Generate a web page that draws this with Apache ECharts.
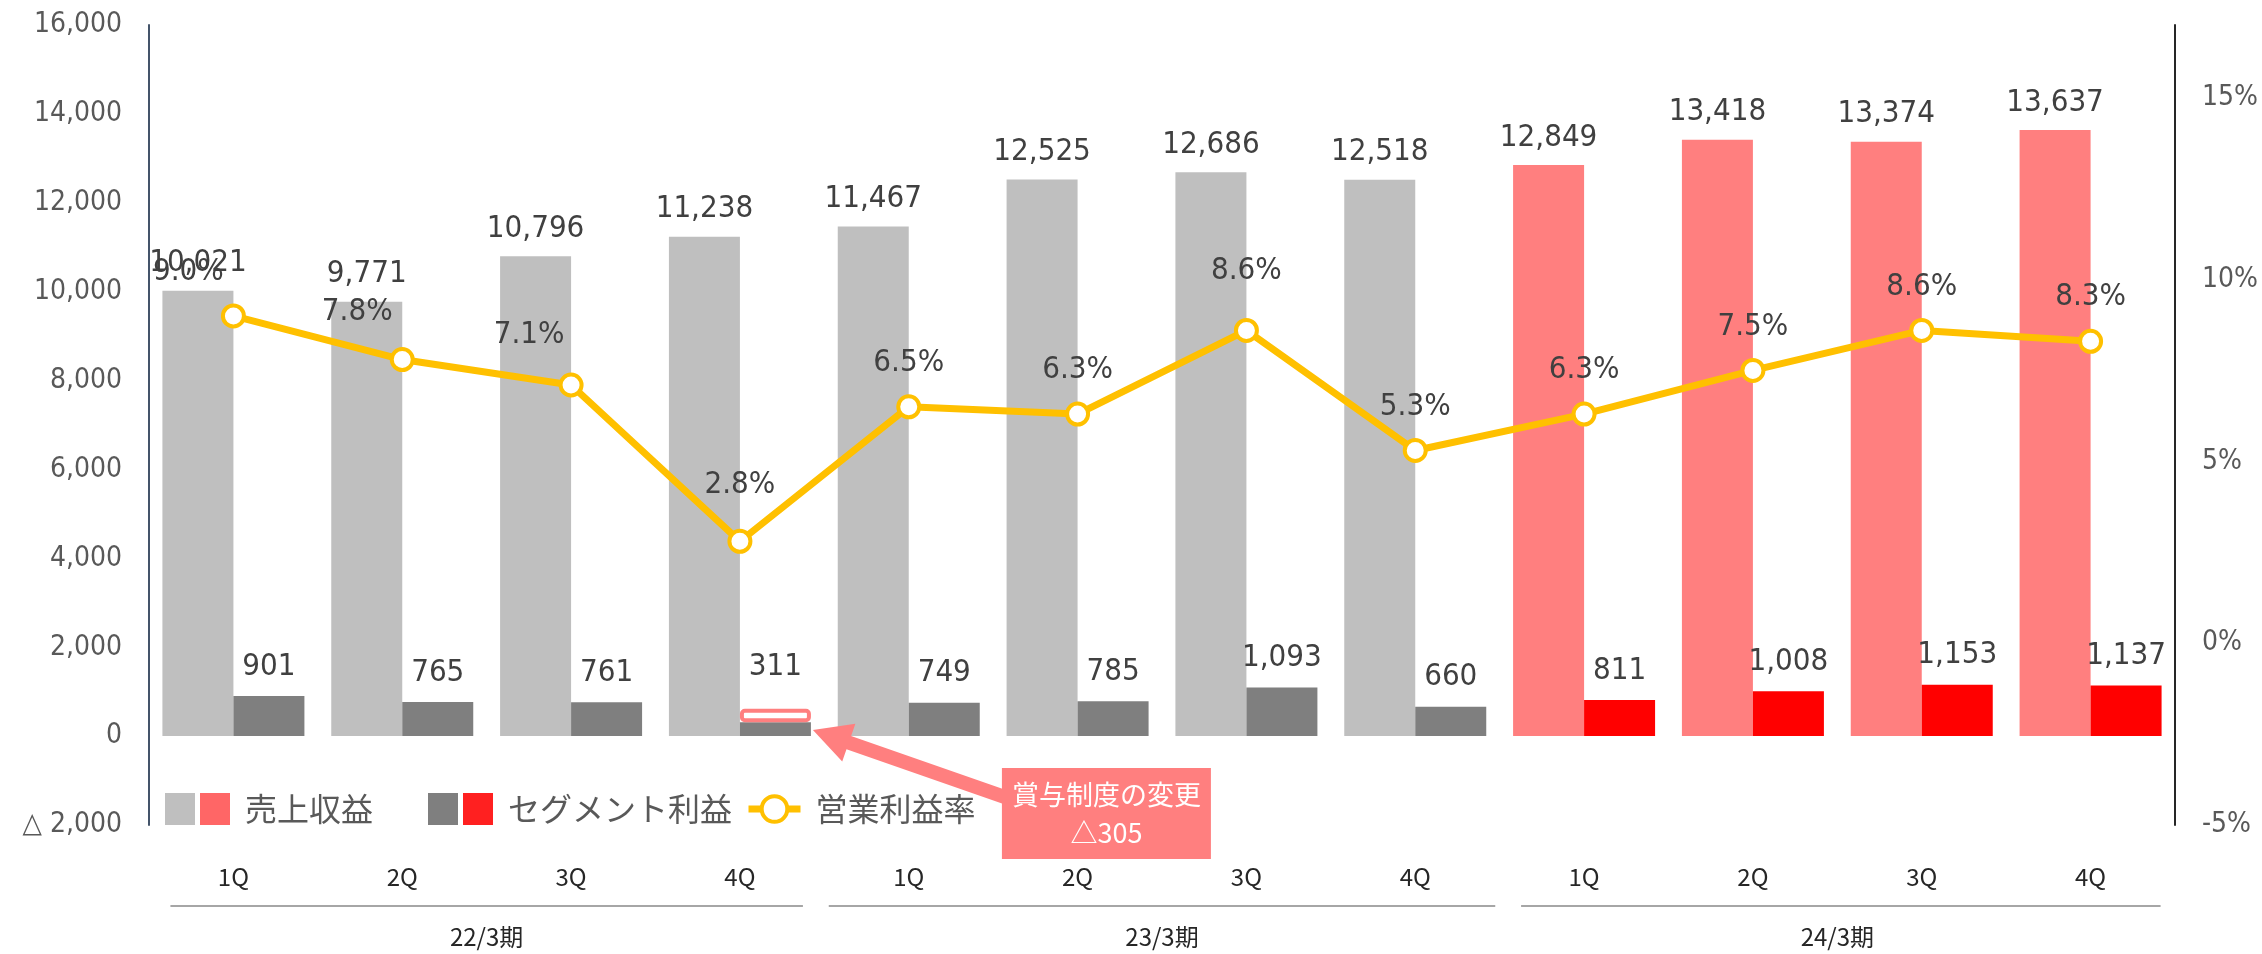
<!DOCTYPE html>
<html>
<head>
<meta charset="utf-8">
<script src="https://cdn.jsdelivr.net/npm/echarts@6/dist/echarts.min.js"></script>
<style>
html, body { margin: 0; padding: 0; background: #fff; }
#main { width: 2262px; height: 954px; }
</style>
</head>
<body>
<div id="main"></div>
<script>
// データ
var quarters = ['1Q', '2Q', '3Q', '4Q', '1Q', '2Q', '3Q', '4Q', '1Q', '2Q', '3Q', '4Q'];
var periods = ['22/3期', '23/3期', '24/3期'];
var revenue = [10021, 9771, 10796, 11238, 11467, 12525, 12686, 12518, 12849, 13418, 13374, 13637];
var segProfit = [901, 765, 761, 311, 749, 785, 1093, 660, 811, 1008, 1153, 1137];
var bonusChange = [null, null, null, 305, null, null, null, null, null, null, null, null]; // 賞与制度の変更
var opMargin = [9.0, 7.8, 7.1, 2.8, 6.5, 6.3, 8.6, 5.3, 6.3, 7.5, 8.6, 8.3];
var leftTicks = [-2000, 16000, 2000];   // min, max, interval
var rightTicks = [-5, 17, 5];

var NUM_FONT = "'DejaVu Sans Condensed', 'Noto Sans', sans-serif";
var JP_FONT = "'Noto Sans CJK JP', sans-serif";
var BAR_W = 71;
var currentFrom = 8; // 24/3期 は赤系

// 利益率ラベルの個別位置調整（元資料の手動配置に合わせる）
var rateLabelNudge = { 0: [-45, 0], 1: [-45, -4], 2: [-42, -6], 3: [0, -12], 6: [0, -16] };

function fmt(v) {
  return Number(v).toLocaleString('en-US');
}

var chart = echarts.init(document.getElementById('main'));

var revData = revenue.map(function (v, i) {
  return i >= currentFrom ? { value: v, itemStyle: { color: '#FF7F7F' } } : v;
});
var segData = segProfit.map(function (v, i) {
  var d = { value: v };
  if (i >= currentFrom) d.itemStyle = { color: '#FF0000' };
  if (bonusChange[i] != null) d.label = { offset: [0, -26] };
  return d;
});
var rateData = opMargin.map(function (v, i) {
  return rateLabelNudge[i] ? { value: v, label: { offset: rateLabelNudge[i] } } : v;
});

var option = {
  backgroundColor: '#ffffff',
  animation: false,
  grid: {
    left: 149, right: 87, top: 25, bottom: 129,
    containLabel: false, outerBoundsMode: 'none'
  },
  legend: [{
    data: ['売上収益', 'セグメント利益'],
    left: 165, top: 793, padding: 0,
    icon: 'rect', itemWidth: 30, itemHeight: 32, itemGap: 55,
    formatter: function (name) {
      return (name === '売上収益' ? '{b0|}' : '{b1|}') + '{t|' + name + '}';
    },
    textStyle: {
      rich: {
        b0: { width: 30, height: 32, backgroundColor: '#FF6666' },
        b1: { width: 30, height: 32, backgroundColor: '#FF2020' },
        t: { fontFamily: JP_FONT, fontSize: 32, color: '#595959', padding: [0, 0, 0, 15] }
      }
    }
  }, {
    data: ['営業利益率'],
    left: 745, top: 793, padding: 0,
    itemWidth: 52, itemHeight: 32,
    itemStyle: { color: '#FFFFFF', borderColor: '#FFC000', borderWidth: 4 },
    lineStyle: { color: '#FFC000', width: 7 },
    textStyle: { fontFamily: JP_FONT, fontSize: 32, color: '#595959', padding: [0, 0, 0, 10] }
  }],
  xAxis: [{
    type: 'category',
    data: quarters,
    axisLine: { show: false, onZero: false },
    axisTick: { show: false },
    axisLabel: { margin: 40, fontFamily: JP_FONT, fontSize: 24, color: '#262626' }
  }, {
    type: 'category',
    data: periods,
    position: 'bottom',
    axisLine: { show: false, onZero: false },
    axisTick: { show: false },
    axisLabel: { margin: 100, fontFamily: JP_FONT, fontSize: 24, color: '#262626' }
  }],
  yAxis: [{
    type: 'value',
    min: leftTicks[0], max: leftTicks[1], interval: leftTicks[2],
    axisLine: { show: true, lineStyle: { color: '#44546A', width: 2 } },
    axisTick: { show: false },
    splitLine: { show: false },
    axisLabel: {
      margin: 27, fontFamily: NUM_FONT, fontSize: 28, color: '#595959',
      formatter: function (v) { return v < 0 ? '△ ' + fmt(-v) : fmt(v); }
    }
  }, {
    type: 'value',
    position: 'right',
    min: rightTicks[0], max: rightTicks[1], interval: rightTicks[2],
    axisLine: { show: true, lineStyle: { color: '#262626', width: 2 } },
    axisTick: { show: false },
    splitLine: { show: false },
    axisLabel: {
      margin: 27, fontFamily: NUM_FONT, fontSize: 28, color: '#595959',
      showMaxLabel: false,
      formatter: function (v) { return v % 5 === 0 ? v + '%' : ''; }
    }
  }],
  series: [{
    name: '売上収益',
    type: 'bar',
    barWidth: BAR_W,
    barGap: '0%',
    itemStyle: { color: '#BFBFBF' },
    label: {
      show: true, position: 'top', distance: 12,
      fontFamily: NUM_FONT, fontSize: 31, color: '#404040',
      formatter: function (p) { return fmt(p.value); }
    },
    data: revData
  }, {
    name: 'セグメント利益',
    type: 'bar',
    stack: 'seg',
    barWidth: BAR_W,
    itemStyle: { color: '#7F7F7F' },
    label: {
      show: true, position: 'top', distance: 14,
      fontFamily: NUM_FONT, fontSize: 31, color: '#404040',
      formatter: function (p) { return fmt(p.value); }
    },
    data: segData
  }, {
    name: '賞与制度の変更',
    type: 'bar',
    stack: 'seg',
    barWidth: BAR_W,
    itemStyle: { color: '#FFFFFF', borderColor: '#FF7F7F', borderWidth: 4, borderRadius: 3 },
    data: bonusChange
  }, {
    name: '営業利益率',
    type: 'line',
    yAxisIndex: 1,
    symbol: 'circle',
    symbolSize: 21,
    lineStyle: { color: '#FFC000', width: 7 },
    itemStyle: { color: '#FFFFFF', borderColor: '#FFC000', borderWidth: 4 },
    label: {
      show: true, position: 'top', distance: 16,
      fontFamily: NUM_FONT, fontSize: 31, color: '#404040',
      formatter: function (p) { return p.value.toFixed(1) + '%'; }
    },
    z: 5,
    data: rateData
  }]
};

chart.setOption(option);

// 期ごとの区切り線と注記
var gBottom = chart.convertToPixel({ yAxisIndex: 0 }, leftTicks[0]);
var y0 = chart.convertToPixel({ yAxisIndex: 0 }, 0);
var graphics = [];
var pads = [[63, 63], [80, 80], [63, 70]];
periods.forEach(function (p, g) {
  var x1 = chart.convertToPixel({ xAxisIndex: 0 }, g * 4) - pads[g][0];
  var x2 = chart.convertToPixel({ xAxisIndex: 0 }, g * 4 + 3) + pads[g][1];
  graphics.push({
    type: 'line', silent: true,
    shape: { x1: x1, y1: gBottom + 81, x2: x2, y2: gBottom + 81 },
    style: { stroke: '#A6A6A6', lineWidth: 2 }
  });
});

var bonusIdx = bonusChange.findIndex(function (v) { return v != null; });
var cx = chart.convertToPixel({ xAxisIndex: 0 }, bonusIdx);
var tip = [cx + BAR_W + 2, y0 - 6];
var boxX = tip[0] + 189, boxY = tip[1] + 38, boxW = 209, boxH = 91;
var tail = [boxX + 6, boxY + 30];
var dx = tip[0] - tail[0], dy = tip[1] - tail[1];
var len = Math.sqrt(dx * dx + dy * dy);
var ux = dx / len, uy = dy / len, nx = -uy, ny = ux;
var headLen = 38, headHalf = 20, shaftHalf = 7;
var base = [tip[0] - ux * headLen, tip[1] - uy * headLen];
var pts = [
  [tail[0] + nx * shaftHalf, tail[1] + ny * shaftHalf],
  [base[0] + nx * shaftHalf, base[1] + ny * shaftHalf],
  [base[0] + nx * headHalf, base[1] + ny * headHalf],
  tip,
  [base[0] - nx * headHalf, base[1] - ny * headHalf],
  [base[0] - nx * shaftHalf, base[1] - ny * shaftHalf],
  [tail[0] - nx * shaftHalf, tail[1] - ny * shaftHalf]
];
graphics.push({
  type: 'polygon', silent: true, z: 10,
  shape: { points: pts },
  style: { fill: '#FF7F7F' }
});
graphics.push({
  type: 'rect', silent: true, z: 11,
  shape: { x: boxX, y: boxY, width: boxW, height: boxH },
  style: { fill: '#FF7F7F' }
});
graphics.push({
  type: 'text', silent: true, z: 12,
  x: boxX + boxW / 2, y: boxY + boxH / 2,
  style: {
    text: '賞与制度の変更\n△' + bonusChange[bonusIdx],
    fill: '#FFFFFF', font: '27px ' + JP_FONT, lineHeight: 38,
    align: 'center', verticalAlign: 'middle'
  }
});

chart.setOption({ graphic: graphics });
</script>
</body>
</html>
